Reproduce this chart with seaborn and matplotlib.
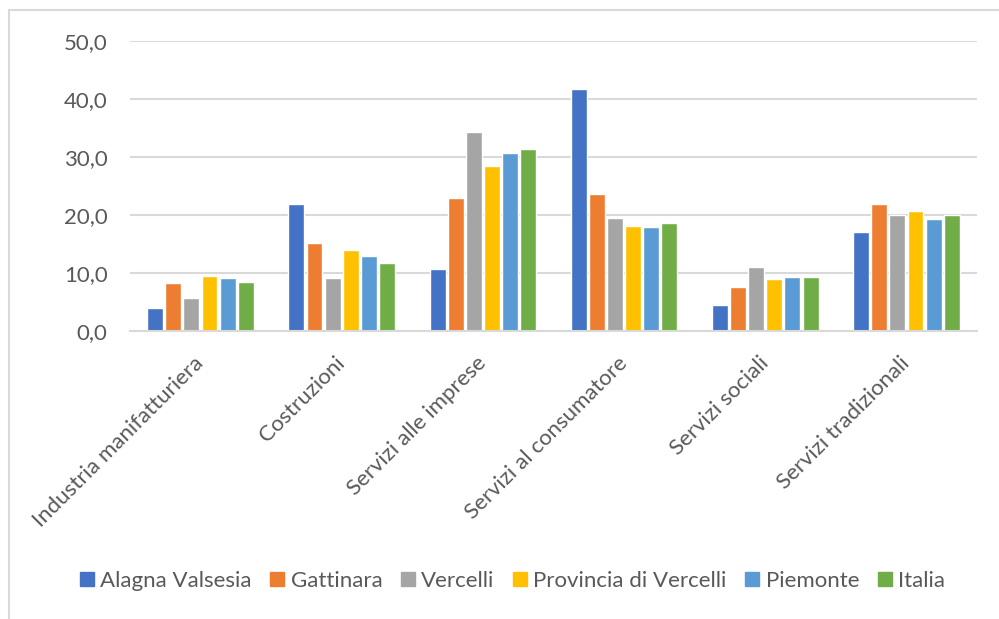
import matplotlib
matplotlib.use("Agg")
import matplotlib.pyplot as plt
import matplotlib.ticker as mticker
from matplotlib.lines import Line2D
import pandas as pd
import seaborn as sns

categories = ["Industria manifatturiera", "Costruzioni", "Servizi alle imprese",
              "Servizi al consumatore", "Servizi sociali", "Servizi tradizionali"]
series = ["Alagna Valsesia", "Gattinara", "Vercelli", "Provincia di Vercelli",
          "Piemonte", "Italia"]

alagna = [3.9, 21.8, 10.7, 41.7, 4.5, 17.0]
gattinara = [8.2, 15.1, 22.8, 23.6, 7.5, 21.8]
vercelli = [5.7, 9.1, 34.3, 19.4, 10.9, 19.9]
provincia = [9.5, 13.9, 28.4, 18.0, 8.9, 20.6]
piemonte = [9.1, 12.8, 30.7, 17.8, 9.3, 19.2]
italia = [8.4, 11.6, 31.4, 18.5, 9.3, 19.9]

colors = ["#4472C4", "#ED7D31", "#A5A5A5", "#FFC000", "#5B9BD5", "#70AD47"]

values = [alagna, gattinara, vercelli, provincia, piemonte, italia]
rows = []
for name, vals in zip(series, values):
    for cat, v in zip(categories, vals):
        rows.append({"Settore": cat, "Area": name, "Valore": v})
df = pd.DataFrame(rows)

sns.set_style("white")
plt.rcParams["font.family"] = ["Lato", "DejaVu Sans"]
text_color = "#595959"
grid_color = "#D9D9D9"

fig = plt.figure(figsize=(9.99, 6.19), dpi=100)
ax = fig.add_axes([0.130, 0.4658, 0.848, 0.4685])

sns.barplot(data=df, x="Settore", y="Valore", hue="Area", order=categories,
            hue_order=series, palette=colors, width=0.77, gap=0.12,
            ax=ax, legend=False, saturation=1)

ax.set_ylim(0, 50)
ax.set_yticks(range(0, 51, 10))
ax.yaxis.set_major_formatter(mticker.FuncFormatter(lambda v, p: f"{v:.1f}".replace(".", ",")))
ax.grid(axis="y", color=grid_color, linewidth=1.5)
ax.set_axisbelow(True)
for s in ["top", "right", "left"]:
    ax.spines[s].set_visible(False)
ax.spines["bottom"].set_color(grid_color)
ax.spines["bottom"].set_linewidth(1.5)
ax.set_xlabel("")
ax.set_ylabel("")
ax.tick_params(axis="y", length=0, pad=16, labelsize=16, labelcolor=text_color)
ax.tick_params(axis="x", length=0, pad=21, labelsize=16, labelcolor=text_color)
plt.setp(ax.get_xticklabels(), rotation=45, ha="right", va="center",
         rotation_mode="anchor")

# legend at the bottom
handles = [Line2D([0], [0], marker="s", color="none", markerfacecolor=c,
                  markeredgecolor=c, markersize=10) for c in colors]
fig.legend(handles, series, loc="center", bbox_to_anchor=(0.512, 1 - 581 / 619),
           ncol=6, frameon=False, fontsize=16, labelcolor=text_color,
           handlelength=0.8, handletextpad=0.2, columnspacing=0.75)

# outer chart frame
fig.add_artist(Line2D([9 / 999, 9 / 999], [0, 1 - 10 / 619], color=grid_color,
                      linewidth=1.5, transform=fig.transFigure))
fig.add_artist(Line2D([9 / 999, 1], [1 - 10 / 619, 1 - 10 / 619], color=grid_color,
                      linewidth=1.5, transform=fig.transFigure))

fig.savefig("out.png", dpi=100)
